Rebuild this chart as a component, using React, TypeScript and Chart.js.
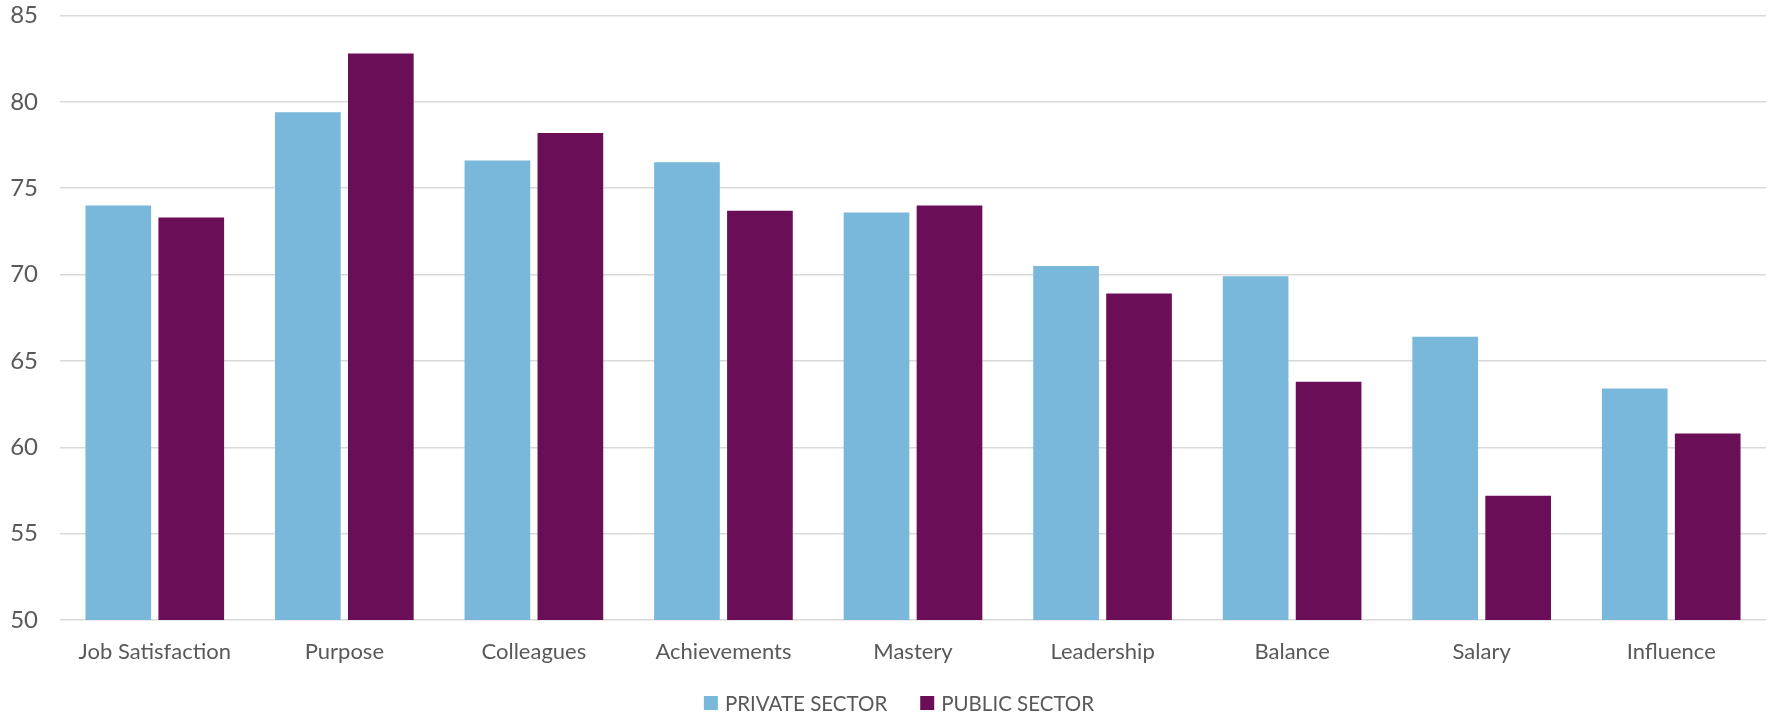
import React, { useEffect, useRef } from "react";
import { Chart, registerables } from "chart.js";

Chart.register(...registerables);

const categories = ["Job Satisfaction", "Purpose", "Colleagues", "Achievements", "Mastery", "Leadership", "Balance", "Salary", "Influence"];
const privateSector = [74.0, 79.4, 76.6, 76.5, 73.6, 70.5, 69.9, 66.4, 63.4];
const publicSector = [73.3, 82.8, 78.2, 73.7, 74.0, 68.9, 63.8, 57.2, 60.8];
const seriesNames = ["PRIVATE SECTOR", "PUBLIC SECTOR"];
const seriesColors = ["#79B8DA", "#6A0F57"];

const FONT = "Lato, 'Open Sans', sans-serif";
const TEXT = "#595959";

const bottomLegend = {
  id: "bottomLegend",
  afterDraw(chart: any) {
    const ctx = chart.ctx;
    const box = 14;
    const gapBoxText = 7;
    const gapItems = 33;
    ctx.save();
    ctx.font = `20.5px ${FONT}`;
    ctx.textBaseline = "middle";
    ctx.textAlign = "left";
    const items = chart.data.datasets.map((d: any) => ({ text: d.label, color: d.backgroundColor, w: ctx.measureText(d.label).width }));
    const total = items.reduce((s: number, it: any) => s + box + gapBoxText + it.w, 0) + gapItems * (items.length - 1);
    const cy = chart.height - 12;
    let x = (chart.chartArea.left + chart.chartArea.right) / 2 - total / 2 - 14;
    items.forEach((it: any) => {
      ctx.fillStyle = it.color;
      ctx.fillRect(x, cy - box / 2, box, box);
      x += box + gapBoxText;
      ctx.fillStyle = TEXT;
      ctx.fillText(it.text, x, cy + 1);
      x += it.w + gapItems;
    });
    ctx.restore();
  },
};

export default function App() {
  const ref = useRef<HTMLCanvasElement>(null);
  useEffect(() => {
    document.body.style.margin = "0";
    const ctx = ref.current!;
    const chart = new Chart(ctx, {
      type: "bar",
      data: {
        labels: categories,
        datasets: [
          { label: seriesNames[0], data: privateSector, backgroundColor: seriesColors[0], borderWidth: 0 },
          { label: seriesNames[1], data: publicSector, backgroundColor: seriesColors[1], borderWidth: 0 },
        ],
      },
      plugins: [bottomLegend],
      options: {
        animation: false,
        responsive: false,
        maintainAspectRatio: false,
        layout: { padding: { left: 0, top: 15.5, right: 5, bottom: 0 } },
        datasets: { bar: { categoryPercentage: 0.77, barPercentage: 0.9 } },
        plugins: {
          tooltip: { enabled: false },
          legend: { display: false },
        },
        scales: {
          x: {
            grid: { display: false, drawTicks: false },
            border: { display: false },
            ticks: { color: TEXT, font: { family: FONT, size: 22 }, padding: 19 },
            afterFit: (scale: any) => {
              scale.height = 95;
              scale.paddingLeft = 0;
              scale.paddingRight = 0;
            },
          },
          y: {
            min: 50,
            max: 85,
            ticks: { stepSize: 5, color: TEXT, font: { family: FONT, size: 24 }, padding: 22 },
            grid: { color: "#D9D9D9", lineWidth: 1.5, drawTicks: false },
            border: { display: false },
            afterFit: (scale: any) => {
              scale.width = 60;
              scale.paddingTop = 0;
              scale.paddingBottom = 0;
            },
          },
        },
      },
    });
    return () => chart.destroy();
  }, []);
  return <canvas ref={ref} width={1771} height={715} style={{ display: "block", width: 1771, height: 715 }} />;
}
